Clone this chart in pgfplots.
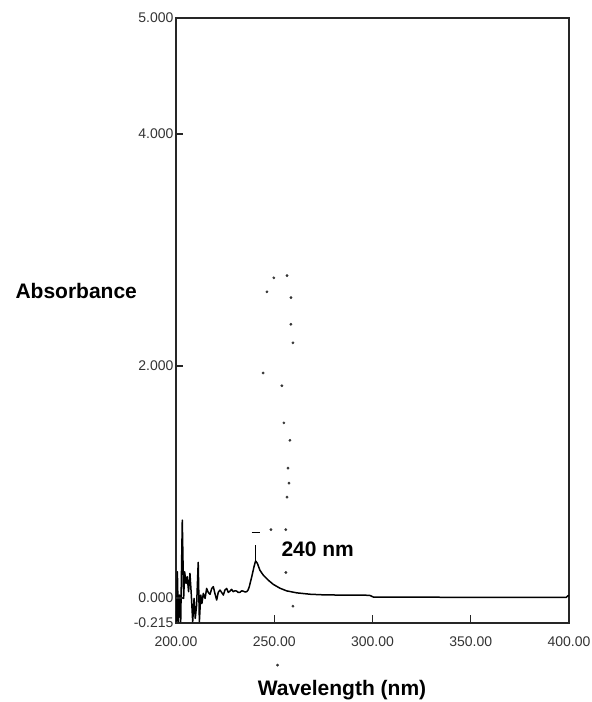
\documentclass[border=0pt]{standalone}
\usepackage{fontspec}
\setmainfont{Liberation Sans}
\usepackage{pgfplots}
\pgfplotsset{compat=1.18}
\begin{document}
\begin{tikzpicture}
\useasboundingbox (-176pt,-79pt) rectangle (416pt,623pt);
\begin{axis}[
 at={(0,0)}, anchor=south west,
 scale only axis, width=393pt, height=605pt,
 xmin=200, xmax=400, ymin=-0.215, ymax=5,
 axis line style={line width=1.3pt, black!85},
 xtick={200,250,300,350,400},
 xticklabels={200.00,250.00,300.00,350.00,400.00},
 ytick={-0.215,0,2,4,5},
 yticklabels={-0.215,0.000,2.000,4.000,5.000},
 tick align=inside,
 major tick length=7pt,
 every tick/.style={black!85, line width=1.4pt},
 xtick pos=bottom, ytick pos=left,
 ticklabel style={font=\fontsize{14}{16}\selectfont, text=black!80},
 xticklabel style={yshift=-10pt},
 yticklabel style={xshift=1pt},
 clip=false,
]
\addplot[black, line width=1.5pt, line join=round] coordinates {
(200.3,-0.204)(200.7,0.227)(201.2,-0.204)(201.7,0.026)(202.4,-0.204)(203.2,0.672)(203.9,-0.003)(204.4,0.227)(205.1,0.126)(205.7,0.184)(206.4,0.055)(207.1,0.213)(207.8,0.026)(208.5,-0.204)(209.2,-0.003)(209.8,-0.175)(210.5,-0.06)(211.3,0.307)(211.9,-0.204)(212.6,0.026)(213.2,-0.046)(213.9,0.04)(214.8,-0.003)(215.6,0.083)(216.4,0.049)(217.3,0.032)(218.2,0.083)(219.0,0.098)(219.8,0.04)(220.7,-0.017)(221.5,0.049)(222.4,0.069)(223.2,0.049)(224.1,0.026)(224.9,0.069)(225.8,0.083)(226.6,0.049)(227.5,0.06)(228.3,0.075)(229.1,0.055)(230.0,0.063)(230.9,0.06)(231.7,0.048)(232.6,0.05)(233.4,0.062)(234.2,0.06)(235.1,0.052)(236.0,0.055)(236.7,0.07)(237.3,0.098)(238.5,0.18)(239.7,0.27)(240.5,0.32)(241.4,0.30)(242.7,0.24)(244.4,0.198)(246.9,0.155)(249.5,0.118)(252.9,0.085)(256.3,0.062)(261.4,0.045)(268.2,0.033)(276.0,0.027)(298.5,0.024)(300.5,0.008)(398.5,0.005)(399.5,0.02)(400,0.02)
};
\addplot[black, line width=1.8pt] coordinates {(240.5,0.32)(240.5,0.46)};
\addplot[black, line width=1.4pt] coordinates {(238.5,0.566)(242.7,0.566)};
\addplot[only marks, mark=*, mark size=1.2pt, black!80] coordinates {
(249.8,2.76)(256.5,2.78)(246.3,2.64)(258.5,2.59)(258.5,2.36)(259.5,2.20)(244.3,1.94)(253.9,1.83)(254.9,1.51)(258.0,1.36)(257.0,1.12)(257.5,0.99)(256.5,0.87)(248.3,0.59)(255.9,0.59)(255.9,0.22)(259.5,-0.07)(251.7,-0.578)
};
\node[anchor=west, font=\bfseries\fontsize{21}{25}\selectfont] at (axis cs:251.9,0.42) {240 nm};
\pgfplotsinvokeforeach{250,300,350}{
  \draw[black!85, line width=1.4pt] (axis cs:#1,-0.215) -- ++(0pt,8pt);
}
\pgfplotsinvokeforeach{0,2,4}{
  \draw[black!85, line width=1.4pt] (axis cs:200,#1) -- ++(6pt,0pt);
}
\end{axis}
\node[anchor=west, font=\bfseries\fontsize{21}{25}\selectfont] at (-164pt,332pt) {Absorbance};
\node[anchor=center, font=\bfseries\fontsize{21}{25}\selectfont] at (166pt,-67pt) {Wavelength (nm)};
\end{tikzpicture}
\end{document}
